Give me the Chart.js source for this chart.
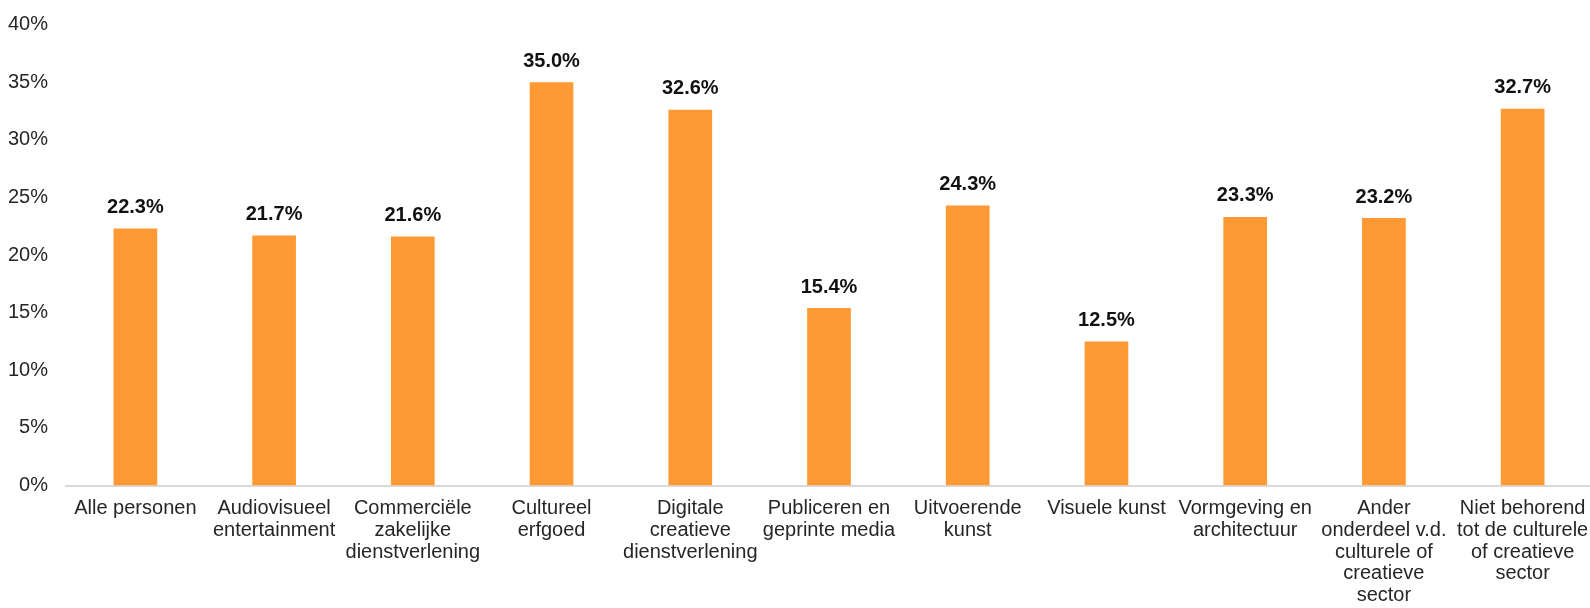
<!DOCTYPE html>
<html>
<head>
<meta charset="utf-8">
<script src="https://cdn.jsdelivr.net/npm/chart.js@4/dist/chart.umd.min.js"></script>
<style>
  html, body { margin: 0; padding: 0; background: #ffffff; overflow: hidden; }
  #wrap { position: relative; width: 1592px; height: 608px; }
</style>
</head>
<body>
<div id="wrap"><canvas id="chart"></canvas></div>
<script>
// Sector categories (multi-line labels)
const categories = [
  ["Alle personen"],
  ["Audiovisueel", "entertainment"],
  ["Commerciële", "zakelijke", "dienstverlening"],
  ["Cultureel", "erfgoed"],
  ["Digitale", "creatieve", "dienstverlening"],
  ["Publiceren en", "geprinte media"],
  ["Uitvoerende", "kunst"],
  ["Visuele kunst"],
  ["Vormgeving en", "architectuur"],
  ["Ander", "onderdeel v.d.", "culturele of", "creatieve", "sector"],
  ["Niet behorend", "tot de culturele", "of creatieve", "sector"]
];

// Share per sector, in percent
const shares = [22.3, 21.7, 21.6, 35.0, 32.6, 15.4, 24.3, 12.5, 23.3, 23.2, 32.7];

// Y axis range and step, in percent
const yMin = 0;
const yMax = 40;
const yStep = 5;

const FONT = '"Liberation Sans", Arial, sans-serif';

// Writes each bar's value above it, e.g. "35.0%"
const valueLabels = {
  id: 'valueLabels',
  afterDatasetsDraw(chart) {
    const ctx = chart.ctx;
    const meta = chart.getDatasetMeta(0);
    const data = chart.data.datasets[0].data;
    ctx.save();
    ctx.font = 'bold 20px ' + FONT;
    ctx.fillStyle = '#111111';
    ctx.textAlign = 'center';
    ctx.textBaseline = 'alphabetic';
    meta.data.forEach((bar, i) => {
      ctx.fillText(data[i].toFixed(1) + '%', bar.x, bar.y - 15.5);
    });
    ctx.restore();
  }
};

new Chart(document.getElementById('chart'), {
  type: 'bar',
  data: {
    labels: categories,
    datasets: [{
      data: shares,
      backgroundColor: '#FF9933',
      borderWidth: 0,
      barPercentage: 0.315,
      categoryPercentage: 1.0
    }]
  },
  options: {
    responsive: true,
    maintainAspectRatio: false,
    animation: false,
    layout: { padding: { top: 24.5, right: 0, bottom: 0, left: 0 } },
    plugins: {
      legend: { display: false },
      tooltip: { enabled: false }
    },
    scales: {
      x: {
        grid: { display: false, drawTicks: false },
        border: { display: true, color: '#D9D9D9', width: 2 },
        ticks: {
          autoSkip: false,
          maxRotation: 0,
          minRotation: 0,
          padding: 12,
          color: '#262626',
          font: { family: FONT, size: 20, lineHeight: 1.09 }
        },
        afterFit(scale) {
          scale.height = 122.5;
          scale.paddingRight = 0;
          scale.paddingLeft = 0;
        }
      },
      y: {
        min: yMin,
        max: yMax,
        grid: { display: false, drawTicks: false },
        border: { display: false },
        ticks: {
          stepSize: yStep,
          padding: 18,
          color: '#262626',
          font: { family: FONT, size: 20 },
          callback: (v) => v + '%'
        },
        afterFit(scale) {
          scale.width = 66;
          scale.paddingTop = 0;
          scale.paddingBottom = 0;
        }
      }
    }
  },
  plugins: [valueLabels]
});
</script>
</body>
</html>
